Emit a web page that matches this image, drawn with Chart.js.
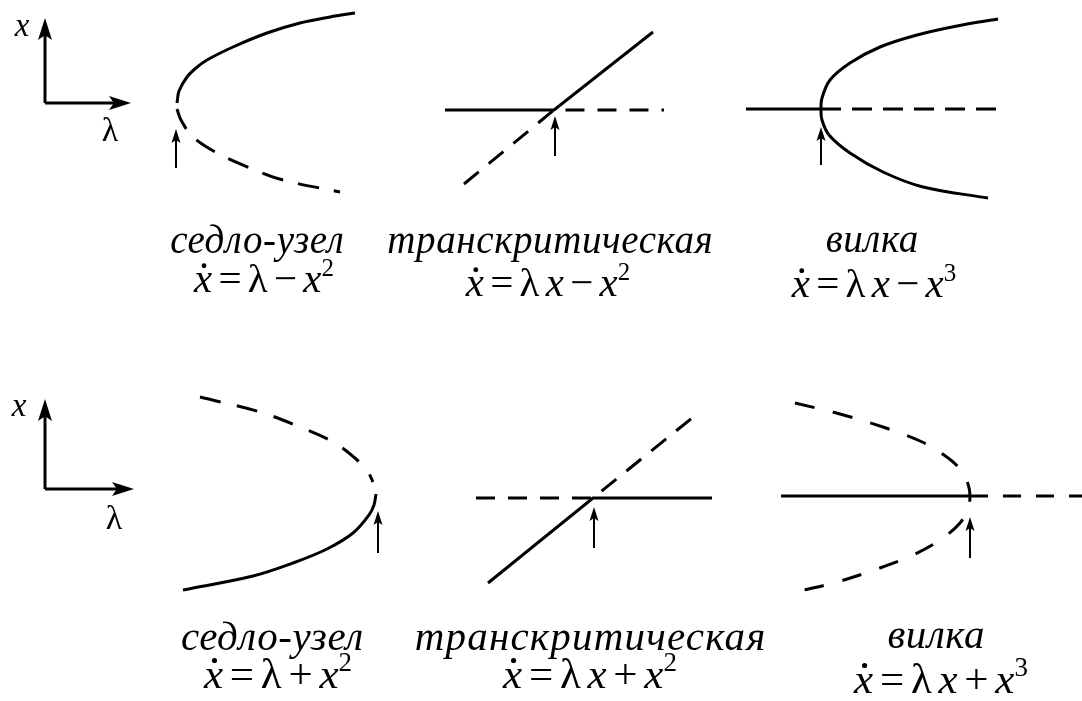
<!DOCTYPE html>
<html>
<head>
<meta charset="utf-8">
<script src="https://cdn.jsdelivr.net/npm/chart.js@4/dist/chart.umd.min.js"></script>
<style>
  body { margin: 0; background: #fff; }
  canvas { display: block; }
</style>
</head>
<body>
<canvas id="bif" width="1082" height="701"></canvas>
<script>
// saddle-node, x' = lambda - x^2
const snTopStable = [[177,103],[179,91],[187,77],[196,68],[207,60],[233,47],[267,33],[300,23],[330,17],[355,13]];
const snTopUnstable = [[177,109],[181,120],[193,137],[217,153],[250,168],[283,180],[340,192]];
// transcritical, x' = lambda x - x^2
const tcTopStable = [[445,110],[554,110],[653,32]];
const tcTopUnstable = [[464,184],[554,110],[664,110]];
// pitchfork, x' = lambda x - x^3
const pfTopAxis = [[746,109],[821,109]];
const pfTopBranch = [[998,19],[957,26],[917,35],[880,47],[850,63],[830,80],[822,98],[821,109],[822,120],[829,135],[850,153],[883,172],[923,187],[988,198]];
const pfTopUnstable = [[821,109],[1007,109]];

// saddle-node, x' = lambda + x^2
const snBotUnstable = [[200,397],[260,412],[300,427],[333,442],[356,459],[368,472],[373,482]];
const snBotStable = [[376,494],[374,505],[369,515],[353,533],[327,549],[293,563],[253,576],[183,590]];
// transcritical, x' = lambda x + x^2
const tcBotStable = [[488,583],[593,498],[712,498]];
const tcBotUnstable = [[476,498],[593,498],[692,418]];
// pitchfork, x' = lambda x + x^3
const pfBotStable = [[781,496],[970,496]];
const pfBotAxis = [[970,496],[1082,496]];
const pfBotBranch = [[795,403],[840,414],[883,427],[920,441],[944,455],[960,469],[968,484],[970,496],[968,508],[960,523],[940,540],[913,555],[880,568],[837,582],[795,592]];

// axis arrows and bifurcation markers: [from, to]
const axisArrows = [
  [[45,103],[45,18]], [[45,103],[131,103]],
  [[45,489],[45,399]], [[45,489],[134,489]]
];
const pointArrows = [
  [[176,168],[176,129]], [[555,156],[555,116]], [[821,165],[821,127]],
  [[378,553],[378,511]], [[594,548],[594,507]], [[970,558],[970,517]]
];

const axisLetters = [['x',[22,36]],['λ',[110,141]],['x',[19,416]],['λ',[114,529]]];
const names = ['седло-узел','транскритическая','вилка','седло-узел','транскритическая','вилка'];
const formulas = ['ẋ = λ − x^2','ẋ = λ x − x^2','ẋ = λ x − x^3','ẋ = λ + x^2','ẋ = λ x + x^2','ẋ = λ x + x^3'];

// text anchors: centre x, baseline y, font size, letter spacing
const nameAt = [[257,253,39,0.6],[550,253,39,0.6],[872,252,39,0.6],[272,650,41,0.6],[590,650,41,1.2],[936,648,41,0.6]];
const formulaAt = [[264,292,41],[548,296,41],[874,297,41],[278,688,43],[590,688,43],[941,693,43]];

const SERIF = '"Liberation Serif", "DejaVu Serif", serif';

function pts(a) { return a.map(([x, y]) => ({x, y})); }

function line(a, dashed, curved, dash) {
  return {
    data: pts(a),
    showLine: true,
    borderColor: '#000',
    borderWidth: 3,
    pointRadius: 0,
    tension: curved ? 0.35 : 0,
    borderDash: dashed ? (dash || [20, 14]) : [],
    borderCapStyle: 'butt'
  };
}

const datasets = [
  line(snTopStable, false, true),
  line(snTopUnstable, true, true, [22, 15]),
  line(tcTopStable, false, false),
  line(tcTopUnstable, true, false, [19, 13]),
  line(pfTopAxis, false, false),
  line(pfTopBranch, false, true),
  line(pfTopUnstable, true, false, [20, 11]),
  line(snBotUnstable, true, true, [21, 17]),
  line(snBotStable, false, true),
  line(tcBotStable, false, false),
  line(tcBotUnstable, true, false, [19, 13]),
  line(pfBotStable, false, false),
  line(pfBotAxis, true, false, [18, 15]),
  line(pfBotBranch, true, true, [20, 19])
];

function drawArrow(ctx, sx, sy, [a, b], width, headLen, headW) {
  const x0 = sx.getPixelForValue(a[0]), y0 = sy.getPixelForValue(a[1]);
  const x1 = sx.getPixelForValue(b[0]), y1 = sy.getPixelForValue(b[1]);
  const ang = Math.atan2(y1 - y0, x1 - x0);
  const cos = Math.cos(ang), sin = Math.sin(ang);
  ctx.lineWidth = width;
  ctx.beginPath();
  ctx.moveTo(x0, y0);
  ctx.lineTo(x1 - cos * headLen * 0.6, y1 - sin * headLen * 0.6);
  ctx.stroke();
  ctx.beginPath();
  ctx.moveTo(x1, y1);
  ctx.lineTo(x1 - cos * headLen - sin * headW / 2, y1 - sin * headLen + cos * headW / 2);
  ctx.lineTo(x1 - cos * headLen * 0.78, y1 - sin * headLen * 0.78);
  ctx.lineTo(x1 - cos * headLen + sin * headW / 2, y1 - sin * headLen - cos * headW / 2);
  ctx.closePath();
  ctx.fill();
}

// split "ẋ = λ x − x^2" into runs: x is italic, ^ marks a superscript
function tokens(str, size) {
  const out = [];
  for (let i = 0; i < str.length; i++) {
    const c = str[i];
    if (c === '^') {
      out.push({t: str[++i], font: `${Math.round(size * 0.62)}px ${SERIF}`, rise: size * 0.4});
    } else if (c === 'ẋ') {
      out.push({t: 'x', font: `italic ${size}px ${SERIF}`, rise: 0, dot: true});
    } else if (c === 'x') {
      out.push({t: 'x', font: `italic ${size}px ${SERIF}`, rise: 0});
    } else if (c === ' ') {
      out.push({t: ' ', font: `${Math.round(size * 0.62)}px ${SERIF}`, rise: 0});
    } else {
      out.push({t: c, font: `${size}px ${SERIF}`, rise: 0});
    }
  }
  return out;
}

function drawFormula(ctx, str, cx, base, size) {
  const runs = tokens(str, size);
  let w = 0;
  runs.forEach(r => { ctx.font = r.font; r.w = ctx.measureText(r.t).width; w += r.w; });
  let x = cx - w / 2;
  ctx.textAlign = 'left';
  ctx.textBaseline = 'alphabetic';
  runs.forEach(r => {
    ctx.font = r.font;
    ctx.fillText(r.t, x, base - r.rise);
    if (r.dot) {
      ctx.beginPath();
      ctx.arc(x + r.w * 0.55, base - size * 0.64, size * 0.06, 0, Math.PI * 2);
      ctx.fill();
    }
    x += r.w;
  });
}

const decor = {
  id: 'decor',
  afterDatasetsDraw(chart) {
    const {ctx, scales} = chart;
    const sx = scales.x, sy = scales.y;
    ctx.save();
    ctx.fillStyle = '#000';
    ctx.strokeStyle = '#000';
    axisArrows.forEach(a => drawArrow(ctx, sx, sy, a, 3, 22, 14));
    pointArrows.forEach(a => drawArrow(ctx, sx, sy, a, 2, 14, 9));

    ctx.textAlign = 'center';
    ctx.textBaseline = 'alphabetic';
    axisLetters.forEach(([t, [x, y]]) => {
      ctx.font = (t === 'x' ? 'italic 33px ' : '34px ') + SERIF;
      ctx.fillText(t, sx.getPixelForValue(x), sy.getPixelForValue(y));
    });

    names.forEach((n, i) => {
      const [x, y, s, ls] = nameAt[i];
      ctx.font = `italic ${s}px ${SERIF}`;
      ctx.letterSpacing = ls + 'px';
      const w = ctx.measureText(n).width;
      ctx.textAlign = 'left';
      ctx.fillText(n, sx.getPixelForValue(x) - (w - ls) / 2, sy.getPixelForValue(y));
    });
    ctx.letterSpacing = '0px';
    formulas.forEach((f, i) => {
      const [x, y, s] = formulaAt[i];
      drawFormula(ctx, f, sx.getPixelForValue(x), sy.getPixelForValue(y), s);
    });
    ctx.restore();
  }
};

new Chart(document.getElementById('bif'), {
  type: 'scatter',
  data: { datasets },
  options: {
    responsive: false,
    animation: false,
    events: [],
    layout: { padding: 0 },
    plugins: { legend: { display: false }, tooltip: { enabled: false } },
    scales: {
      x: { type: 'linear', min: 0, max: 1082, display: false },
      y: { type: 'linear', min: 0, max: 701, reverse: true, display: false }
    }
  },
  plugins: [decor]
});
</script>
</body>
</html>
